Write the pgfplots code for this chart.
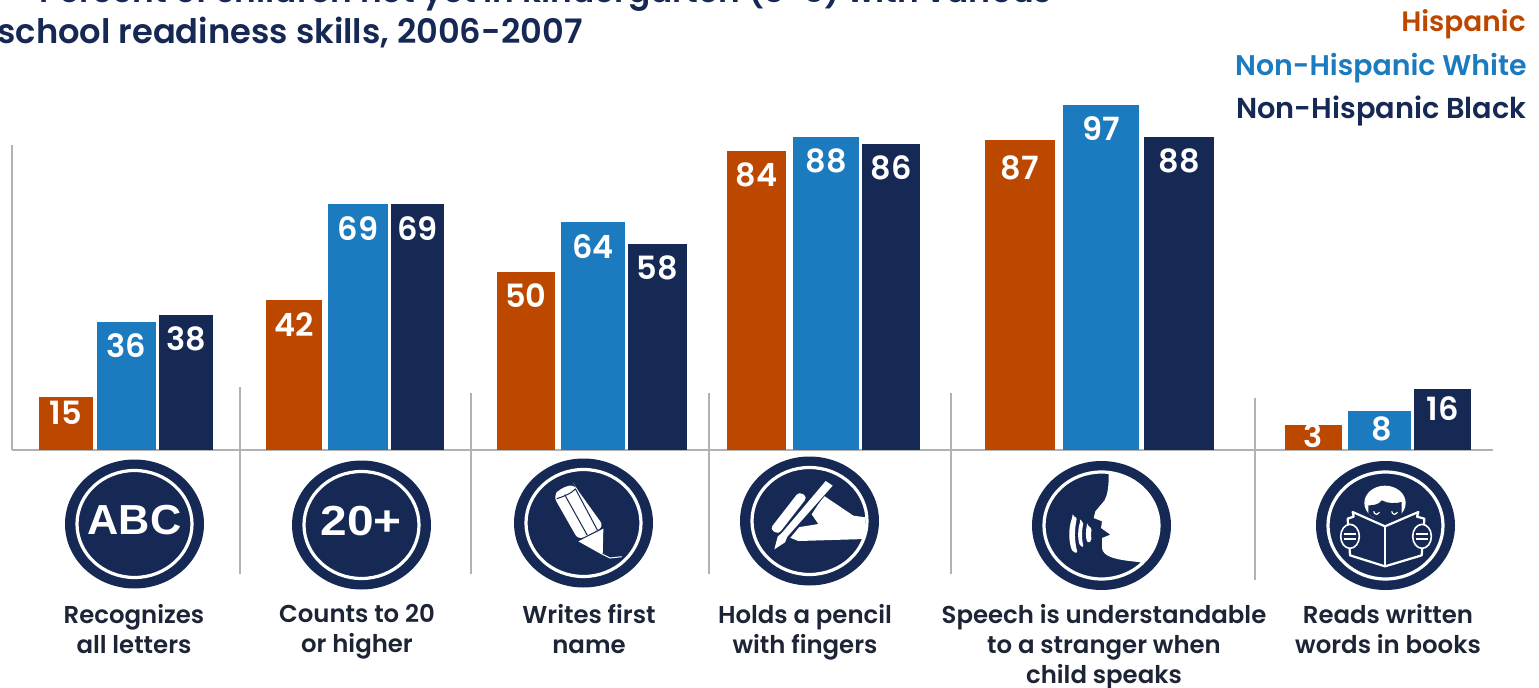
\documentclass[border=0pt]{standalone}
\usepackage{pgfplots}
\pgfplotsset{compat=1.18}
\usepackage{fontspec}
\setmainfont{Poppins}[UprightFont=* Medium,BoldFont=* SemiBold]
\newfontfamily\arialish{Liberation Sans}
\definecolor{hisp}{HTML}{BC4800}
\definecolor{nhwhite}{HTML}{1C7BBF}
\definecolor{nhblack}{HTML}{162955}
\definecolor{rulegrey}{HTML}{B2B2B2}
\definecolor{captiontext}{HTML}{1D2436}
\newcommand{\valuefont}{\fontsize{16}{17}\selectfont\bfseries}

\pgfplotsset{
  skillbar/.style={ybar,bar shift=0pt,bar width=#1,draw=none,
    nodes near coords,point meta=y,
    nodes near coords style={anchor=center,yshift=-12pt,text=white,font=\valuefont}},
  divider/.style={rulegrey,line width=0.6pt,forget plot},
}
% One skill icon frame: navy disc with a white ring, in canvas pixels
\newcommand{\iconframe}[2]{%
  \fill[nhblack] (#1,#2) ellipse [x radius=69.5,y radius=64.5];
  \draw[white,line width=1.6pt] (#1,#2) ellipse [x radius=57.5,y radius=53.5];
}

\begin{document}
\begin{tikzpicture}
\path[use as bounding box] (0,0) rectangle (769.5pt,343.5pt);
\clip (0,0) rectangle (769.5pt,343.5pt);

% Bars share one vertical scale: 3.56 canvas pixels per percentage point
\begin{axis}[
  at={(6pt,118.5pt)},anchor=south west,scale only axis,
  width=740.5pt,height=152.5pt,
  xmin=12,xmax=1493,ymin=0,ymax=85.67,clip=false,
  /pgf/number format/assume math mode=true,
  axis lines=left,axis line style={-,rulegrey,line width=0.8pt},
  ytick=\empty,
  xtick={134,357,589,805,1104,1388},
  major tick length=0pt,
  xticklabels={Recognizes\\all letters,Counts to 20\\or higher,Writes first\\name,Holds a pencil\\with fingers,Speech is understandable\\to a stranger when\\child speaks,Reads written\\words in books},
  xticklabel style={align=center,anchor=north,yshift=-73.5pt,text=captiontext,
    font=\fontsize{12.2}{15}\selectfont\bfseries},
]
\addplot[skillbar=54,fill=hisp,nodes near coords style={yshift=4pt}] coordinates {(66,15)};
\addplot[skillbar=59,fill=nhwhite] coordinates {(126.5,36)};
\addplot[skillbar=54,fill=nhblack] coordinates {(186,38)};
\addplot[skillbar=56,fill=hisp] coordinates {(294,42)};
\addplot[skillbar=60,fill=nhwhite] coordinates {(358,69)};
\addplot[skillbar=53,fill=nhblack] coordinates {(417.5,69)};
\addplot[skillbar=58,fill=hisp] coordinates {(526,50)};
\addplot[skillbar=64,fill=nhwhite] coordinates {(593,64)};
\addplot[skillbar=59,fill=nhblack] coordinates {(657.5,58)};
\addplot[skillbar=59,fill=hisp] coordinates {(756.5,84)};
\addplot[skillbar=66,fill=nhwhite] coordinates {(826,88)};
\addplot[skillbar=58,fill=nhblack] coordinates {(891,86)};
\addplot[skillbar=70,fill=hisp,nodes near coords style={yshift=-2pt}] coordinates {(1020,87)};
\addplot[skillbar=76,fill=nhwhite] coordinates {(1101,97)};
\addplot[skillbar=70,fill=nhblack] coordinates {(1179,88)};
\addplot[divider] coordinates {(240,17.7) (240,-34.9)};
\addplot[divider] coordinates {(471,16) (471,-34.9)};
\addplot[divider] coordinates {(709,16) (709,-34.9)};
\addplot[divider] coordinates {(951,16) (951,-34.9)};
\addplot[divider] coordinates {(1255,14.6) (1255,-36.6)};
\end{axis}

% The last skill has its own, offset scale
\begin{axis}[
  at={(6pt,118.5pt)},anchor=south west,scale only axis,
  width=740.5pt,height=152.5pt,
  xmin=12,xmax=1493,ymin=-6.03,ymax=104.1,clip=false,hide axis,
]
\addplot[fill=hisp,draw=none] coordinates {(1285,-6.03) (1285,3) (1342,3) (1342,-6.03)};
\addplot[fill=nhwhite,draw=none] coordinates {(1348,-6.03) (1348,8) (1411,8) (1411,-6.03)};
\addplot[fill=nhblack,draw=none] coordinates {(1414,-6.03) (1414,16) (1471,16) (1471,-6.03)};
\node[anchor=center,yshift=-5.5pt,text=white,font=\valuefont] at (axis cs:1313.5,3) {3};
\node[anchor=center,yshift=-9pt,text=white,font=\valuefont] at (axis cs:1381.5,8) {8};
\node[anchor=center,yshift=-10pt,text=white,font=\valuefont] at (axis cs:1442.5,16) {16};
\end{axis}

% Canvas in pixels, measured from the top left corner
\begin{scope}[shift={(0,343.5pt)},x=0.5pt,y=-0.5pt]
  % Title
  \node[anchor=base east,inner sep=0pt,text=nhblack,font=\fontsize{16.4}{18}\selectfont\bfseries] at (1052,3) {Percent of children not yet in kindergarten (3-5) with various};
  \node[anchor=base west,inner sep=0pt,text=nhblack,font=\fontsize{16.85}{18}\selectfont\bfseries] at (-3,44) {school readiness skills, 2006-2007};
  % Series key
  \node[anchor=base east,inner sep=0pt,text=hisp,font=\fontsize{14}{16}\selectfont\bfseries] at (1526,32) {Hispanic};
  \node[anchor=base east,inner sep=0pt,text=nhwhite,font=\fontsize{14.2}{16}\selectfont\bfseries] at (1527,76) {Non-Hispanic White};
  \node[anchor=base east,inner sep=0pt,text=nhblack,font=\fontsize{14.4}{16}\selectfont\bfseries] at (1527,119) {Non-Hispanic Black};

  % ABC
  \iconframe{134.5}{524}
  \node[text=white,xscale=1.03,font=\arialish\bfseries\fontsize{21}{21}\selectfont] at (134.5,520) {ABC};
  % 20+
  \iconframe{361.5}{525}
  \node[text=white,xscale=1.14,font=\arialish\bfseries\fontsize{21}{21}\selectfont] at (361,521) {20+};

  % Pencil
  \iconframe{583.5}{523}
  \begin{scope}[shift={(510,456)},x=0.1667pt,y=-0.1667pt]
    \fill[white,rounded corners=3pt] (130,120) -- (150,98) -- (192,84) -- (198,95) -- (282,212) -- (205,252) -- cycle;
    \draw[nhblack,line width=0.5pt] (164,116) -- (232,238) (197,100) -- (262,222) (140,128) .. controls (160,122) and (185,112) .. (197,98);
    \fill[white] (205,256) -- (280,218) -- (278,297) -- cycle;
    \draw[white,line width=0.5pt] (278,295) -- (300,306) -- (335,302);
  \end{scope}

  % Hand holding a pencil
  \iconframe{809.5}{521}
  \begin{scope}[shift={(735,455)},x=0.1667pt,y=-0.1667pt]
    \fill[white] (266,122) -- (355,182) -- (392,187) -- (388,252) -- (190,258) -- (165,248) -- (158,226) -- (195,216) -- (250,207) -- (230,178) -- cycle;
    \fill[white,rounded corners=2pt] (192,110) -- (217,126) -- (130,238) -- (105,222) -- cycle;
    \fill[nhblack] (140,230) -- (270,74) -- (296,90) -- (160,255) -- cycle;
    \fill[white] (272,78) -- (293,92) -- (157,245) -- (150,262) -- (118,283) -- (128,245) -- (142,232) -- cycle;
  \end{scope}

  % Profile of a speaking head
  \iconframe{1101.5}{525.5}
  \begin{scope}[shift={(1027,458)},x=0.1667pt,y=-0.1667pt]
    \begin{scope}
      \clip (223,205) ellipse [x radius=172.5,y radius=160.5];
      \fill[white] (245,30) -- (245,57) .. controls (245,90) and (240,115) .. (232,128) -- (205,160) -- (200,180) -- (225,190) -- (222,210) -- (250,230) -- (225,240) -- (225,270) .. controls (228,295) and (260,305) .. (335,312) -- (420,335) -- (420,30) -- cycle;
    \end{scope}
    \fill[white,rounded corners=1pt] (137,175) -- (150,178) .. controls (142,215) and (142,250) .. (152,285) -- (137,282) .. controls (124,250) and (124,210) .. cycle;
    \fill[white,rounded corners=1pt] (160,190) -- (170,193) .. controls (164,215) and (164,245) .. (170,268) -- (160,265) .. controls (152,245) and (152,215) .. cycle;
    \fill[white,rounded corners=1pt] (180,202) -- (195,210) .. controls (192,222) and (192,238) .. (195,248) -- (182,255) .. controls (176,240) and (176,218) .. cycle;
  \end{scope}

  % Child reading a book
  \iconframe{1385.5}{525.5}
  \begin{scope}[shift={(1311,458)},x=0.1667pt,y=-0.1667pt]
    \fill[white] (222,135) ellipse [x radius=62,y radius=52];
    \fill[nhblack] (172,168) -- (172,142) .. controls (195,142) and (205,137) .. (212,127) .. controls (230,137) and (255,137) .. (272,132) -- (272,170) -- (222,200) -- cycle;
    \draw[white,line width=0.6pt] (188,160) arc [start angle=180,end angle=20,radius=9];
    \draw[white,line width=0.6pt] (242,160) arc [start angle=180,end angle=20,radius=9];
    \draw[white,fill=nhblack,line width=1.1pt,line join=round] (222,205) -- (125,162) -- (128,176) -- (110,182) -- (117,292) -- (222,325) -- (332,292) -- (340,182) -- (318,176) -- (322,162) -- cycle;
    \draw[white,line width=1.1pt] (222,205) -- (222,322);
    % hands gripping the book
    \foreach \hx in {117,333} {
      \draw[white,fill=nhblack,line width=0.8pt] (\hx,235) ellipse [x radius=28,y radius=36];
      \draw[white,line width=1pt] (\hx-18,227) -- (\hx+18,227) (\hx-18,244) -- (\hx+18,244);
    }
  \end{scope}
\end{scope}
\end{tikzpicture}
\end{document}
